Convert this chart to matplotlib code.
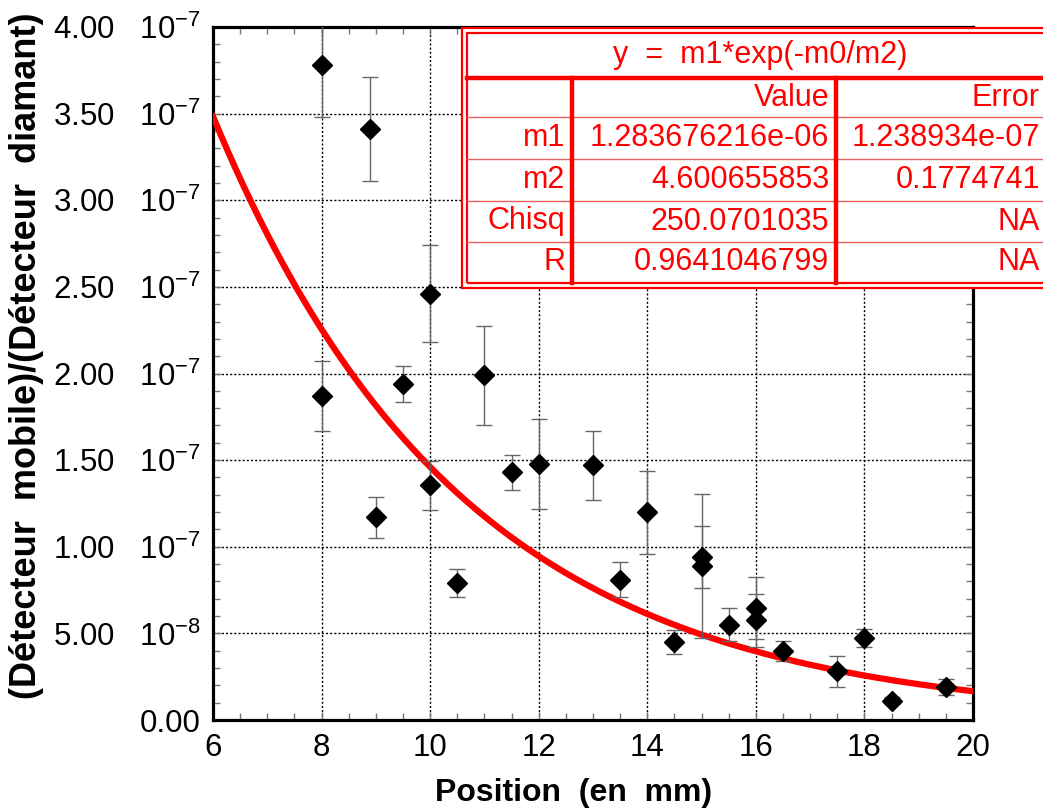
import numpy as np
import matplotlib
matplotlib.use("Agg")
import matplotlib.pyplot as plt
from matplotlib.ticker import MultipleLocator, FuncFormatter
from matplotlib.patches import Rectangle
from matplotlib.lines import Line2D

plt.rcParams['font.family'] = ['Liberation Sans', 'DejaVu Sans']
plt.rcParams['mathtext.fontset'] = 'custom'
plt.rcParams['mathtext.rm'] = 'Liberation Sans'
plt.rcParams['mathtext.it'] = 'Liberation Sans'
plt.rcParams['mathtext.bf'] = 'Liberation Sans:bold'

# measured points (position in mm, ratio in units of 1e-7)
position = [8.0, 8.0, 8.9, 9.0, 9.5, 10.0, 10.0, 10.5, 11.0, 11.5, 12.0, 13.0, 13.5,
            14.0, 14.5, 15.0, 15.0, 15.5, 16.0, 16.0, 16.5, 17.5, 18.0, 18.5, 19.5]
ratio = [3.78, 1.87, 3.41, 1.17, 1.94, 2.46, 1.355, 0.79, 1.99, 1.43, 1.48, 1.47, 0.81,
         1.20, 0.45, 0.94, 0.89, 0.55, 0.645, 0.575, 0.40, 0.28, 0.475, 0.11, 0.19]
ratio_err = [0.30, 0.20, 0.30, 0.12, 0.105, 0.28, 0.14, 0.08, 0.285, 0.10, 0.26, 0.20, 0.10,
             0.24, 0.067, 0.177, 0.415, 0.095, 0.18, 0.155, 0.058, 0.088, 0.053, 0.02, 0.046]

# fit parameters, y = m1*exp(-m0/m2)
m1 = 1.283676216e-06
m2 = 4.600655853
table_rows = ['m1', 'm2', 'Chisq', 'R']
table_values = ['1.283676216e-06', '4.600655853', '250.0701035', '0.9641046799']
table_errors = ['1.238934e-07', '0.1774741', 'NA', 'NA']

y = np.array(ratio) * 1e-7
yerr = np.array(ratio_err) * 1e-7

W, H = 1043, 810
fig = plt.figure(figsize=(W / 100, H / 100), dpi=100)
ax = fig.add_axes([213 / W, 90 / H, 760 / W, 693 / H])

xfit = np.linspace(6, 20, 300)
ax.plot(xfit, m1 * np.exp(-xfit / m2), color='#ff0000', lw=4.5, zorder=3)

ax.errorbar(position, y, yerr=yerr, fmt='none', ecolor='#666666', elinewidth=1,
            capsize=5.5, capthick=1, zorder=4)
ax.plot(position, y, linestyle='none', marker='D', markersize=10.5, color='black', zorder=5)

ax.set_xlim(6, 20)
ax.set_ylim(0, 4e-7)
ax.xaxis.set_major_locator(MultipleLocator(2))
ax.xaxis.set_minor_locator(MultipleLocator(0.5))
ax.yaxis.set_major_locator(MultipleLocator(0.5e-7))
ax.yaxis.set_minor_locator(MultipleLocator(0.1e-7))


def fmt_y(v, pos):
    if v < 1e-12:
        return '0.00'
    e = int(np.floor(np.log10(v) + 1e-9))
    return '%.2f   10$^{-%d}$' % (v / 10 ** e, -e)


ax.yaxis.set_major_formatter(FuncFormatter(fmt_y))
ax.xaxis.set_major_formatter(FuncFormatter(lambda v, p: '%d' % round(v)))

ax.grid(True, which='major', linestyle=(0, (1.5, 1.5)), color='black', linewidth=1.0)
ax.tick_params(which='both', direction='in', top=True, right=True, color='#777777',
               labelsize=22.5)
ax.tick_params(which='major', length=6, width=1, pad=9)
ax.tick_params(which='minor', length=5, width=1)
for s in ax.spines.values():
    s.set_linewidth(2.3)

ax.set_xlabel('Position  (en  mm)', fontsize=23, fontweight='bold')
ax.xaxis.set_label_coords(0.475, -0.083)
ax.set_ylabel('(Détecteur  mobile)/(Détecteur  diamant)', fontsize=26, fontweight='bold')
ax.yaxis.set_label_coords(-0.222, 0.525)

# fit result table (pixel positions converted to figure fractions)
red = '#ff0000'


def fx(px):
    return px / W


def fy(py):
    return 1 - py / H


tr = fig.transFigure
fig.patches.append(Rectangle((fx(462), fy(288)), fx(1070) - fx(462), fy(28) - fy(288),
                             transform=tr, facecolor='white', edgecolor=red, lw=1.6, zorder=10))
fig.patches.append(Rectangle((fx(467), fy(283)), fx(1065) - fx(467), fy(33) - fy(283),
                             transform=tr, facecolor='none', edgecolor=red, lw=1.6, zorder=11))
fig.lines.append(Line2D([fx(467), fx(1065)], [fy(78), fy(78)], transform=tr, color=red,
                        lw=3.2, zorder=12))
for yy in [117, 159, 201, 242]:
    fig.lines.append(Line2D([fx(467), fx(1065)], [fy(yy), fy(yy)], transform=tr,
                            color='#e86060', lw=1.0, zorder=12))
for xx in [572, 836]:
    fig.lines.append(Line2D([fx(xx), fx(xx)], [fy(78), fy(283)], transform=tr, color=red,
                            lw=3.2, zorder=12))

tfs = 22
fig.text(fx(760), fy(55), 'y  =  m1*exp(-m0/m2)', color=red, fontsize=tfs,
         ha='center', va='center', zorder=13)
fig.text(fx(829), fy(97.5), 'Value', color=red, fontsize=tfs, ha='right', va='center', zorder=13)
fig.text(fx(1040), fy(97.5), 'Error', color=red, fontsize=tfs, ha='right', va='center', zorder=13)
row_y = [138, 180, 221.5, 262.5]
for name, val, err, ry in zip(table_rows, table_values, table_errors, row_y):
    fig.text(fx(565), fy(ry), name, color=red, fontsize=tfs, ha='right', va='center', zorder=13)
    fig.text(fx(829), fy(ry), val, color=red, fontsize=tfs, ha='right', va='center', zorder=13)
    fig.text(fx(1040), fy(ry), err, color=red, fontsize=tfs, ha='right', va='center', zorder=13)

fig.savefig('out.png', dpi=100)
